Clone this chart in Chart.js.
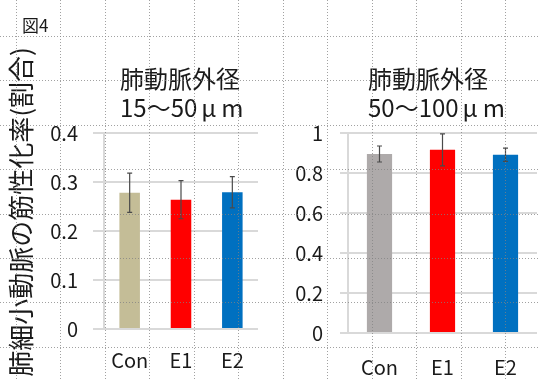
<!DOCTYPE html>
<html>
<head>
<meta charset="utf-8">
<script src="https://cdn.jsdelivr.net/npm/chart.js@4.4.0/dist/chart.umd.min.js"></script>
<style>
  body { margin: 0; background: #fff; }
  #wrap { position: relative; width: 540px; height: 380px; overflow: hidden;
          font-family: 'Noto Sans CJK JP', sans-serif; color: #1a1a1a; }
  canvas { position: absolute; top: 0; }
  #fig { position: absolute; left: 22px; top: 16px; font-size: 17px; line-height: 1; }
  #ytitle { position: absolute; left: 20px; top: 212px; font-size: 26px; line-height: 1;
            white-space: nowrap; transform: translate(-50%, -50%) rotate(-90deg); }
  .ptitle { position: absolute; top: 62.5px; font-size: 24px; line-height: 29px; white-space: nowrap; }
  .fw { padding: 0 5px 0 4px; }
  #dots { pointer-events: none; }
</style>
</head>
<body>
<div id="wrap">
  <canvas id="small" width="270" height="380" style="left:0"></canvas>
  <canvas id="large" width="270" height="380" style="left:270px"></canvas>
  <div id="fig">図4</div>
  <div id="ytitle">肺細小動脈の筋性化率(割合)</div>
  <div class="ptitle" id="smallTitle" style="left:120px"></div>
  <div class="ptitle" id="largeTitle" style="left:368px"></div>
  <canvas id="dots" width="540" height="380" style="left:0"></canvas>
</div>
<script>
// data
const categories = ['Con', 'E1', 'E2'];
const smallMeans = [0.278, 0.264, 0.279];
const smallErrors = [0.040, 0.039, 0.032];
const largeMeans = [0.895, 0.916, 0.891];
const largeErrors = [0.040, 0.080, 0.033];
const smallTitle = ['肺動脈外径', '15～50μm'];
const largeTitle = ['肺動脈外径', '50～100μm'];

const FONT = "'Noto Sans CJK JP', sans-serif";
const INK = '#1a1a1a';
const GRID = '#d9d9d9';

// draws the +/- error whiskers on top of each bar
const errorBars = {
    id: 'errorBars',
    afterDatasetsDraw(chart) {
        const ctx = chart.ctx;
        const y = chart.scales.y;
        chart.data.datasets.forEach((ds, i) => {
            const meta = chart.getDatasetMeta(i);
            meta.data.forEach((bar, j) => {
                const top = y.getPixelForValue(ds.data[j] + ds.errors[j]);
                const bot = y.getPixelForValue(ds.data[j] - ds.errors[j]);
                ctx.save();
                ctx.strokeStyle = '#4a4a4a';
                ctx.lineWidth = 1.2;
                ctx.beginPath();
                ctx.moveTo(bar.x, top); ctx.lineTo(bar.x, bot);
                ctx.moveTo(bar.x - 2.5, top); ctx.lineTo(bar.x + 2.5, top);
                ctx.moveTo(bar.x - 2.5, bot); ctx.lineTo(bar.x + 2.5, bot);
                ctx.stroke();
                ctx.restore();
            });
        });
    }
};

function makeChart(id, means, errors, colors, yMax, yStep, geo) {
    return new Chart(document.getElementById(id), {
        type: 'bar',
        data: {
            labels: categories,
            datasets: [{
                data: means,
                errors: errors,
                backgroundColor: colors,
                borderWidth: 0,
                barPercentage: 0.4,
                categoryPercentage: 1
            }]
        },
        options: {
            responsive: false,
            animation: false,
            layout: { padding: { left: 0, right: geo.padRight, top: 133, bottom: 0 } },
            plugins: {
                legend: { display: false },
                tooltip: { enabled: false },
                title: { display: false }
            },
            scales: {
                x: {
                    grid: { display: false, drawTicks: false },
                    border: { display: false },
                    ticks: { color: INK, font: { family: FONT, size: 20 }, padding: geo.xPad },
                    afterFit: s => { s.height = geo.xHeight; }
                },
                y: {
                    min: 0,
                    max: yMax,
                    grid: { color: GRID, lineWidth: 2, tickLength: geo.tickLen, tickColor: GRID },
                    border: { display: true, color: GRID, width: 2 },
                    ticks: {
                        stepSize: yStep,
                        color: INK,
                        font: { family: FONT, size: 20 },
                        padding: geo.tickPad,
                        callback: v => String(+v.toFixed(2))
                    },
                    afterFit: s => { s.width = geo.yWidth; }
                }
            }
        },
        plugins: [errorBars]
    });
}

makeChart('small', smallMeans, smallErrors, ['#c4bd97', '#ff0000', '#0070c0'], 0.4, 0.1,
    { padRight: 12, yWidth: 104, tickLen: 11, tickPad: 15, xHeight: 51, xPad: 19 });
makeChart('large', largeMeans, largeErrors, ['#aeaaaa', '#ff0000', '#0070c0'], 1, 0.2,
    { padRight: 3, yWidth: 78, tickLen: 8, tickPad: 17, xHeight: 47, xPad: 22 });

// the micro sign sits in a wide box, as in the original slide
const titleHtml = lines => lines.map(l => l.replace('μ', '<span class="fw">μ</span>')).join('<br>');
document.getElementById('smallTitle').innerHTML = titleHtml(smallTitle);
document.getElementById('largeTitle').innerHTML = titleHtml(largeTitle);

// dotted slide grid laid over everything
const dc = document.getElementById('dots').getContext('2d');
dc.strokeStyle = 'rgba(130,130,130,0.75)';
dc.lineWidth = 1;
dc.setLineDash([1, 2]);
for (let x = 15.5; x < 540; x += 44.5) {
    const px = Math.round(x) + 0.5;
    dc.beginPath(); dc.moveTo(px, 0); dc.lineTo(px, 380); dc.stroke();
}
for (let y = 36; y < 380; y += 44.4) {
    const py = Math.round(y) + 0.5;
    dc.beginPath(); dc.moveTo(0, py); dc.lineTo(540, py); dc.stroke();
}
</script>
</body>
</html>
